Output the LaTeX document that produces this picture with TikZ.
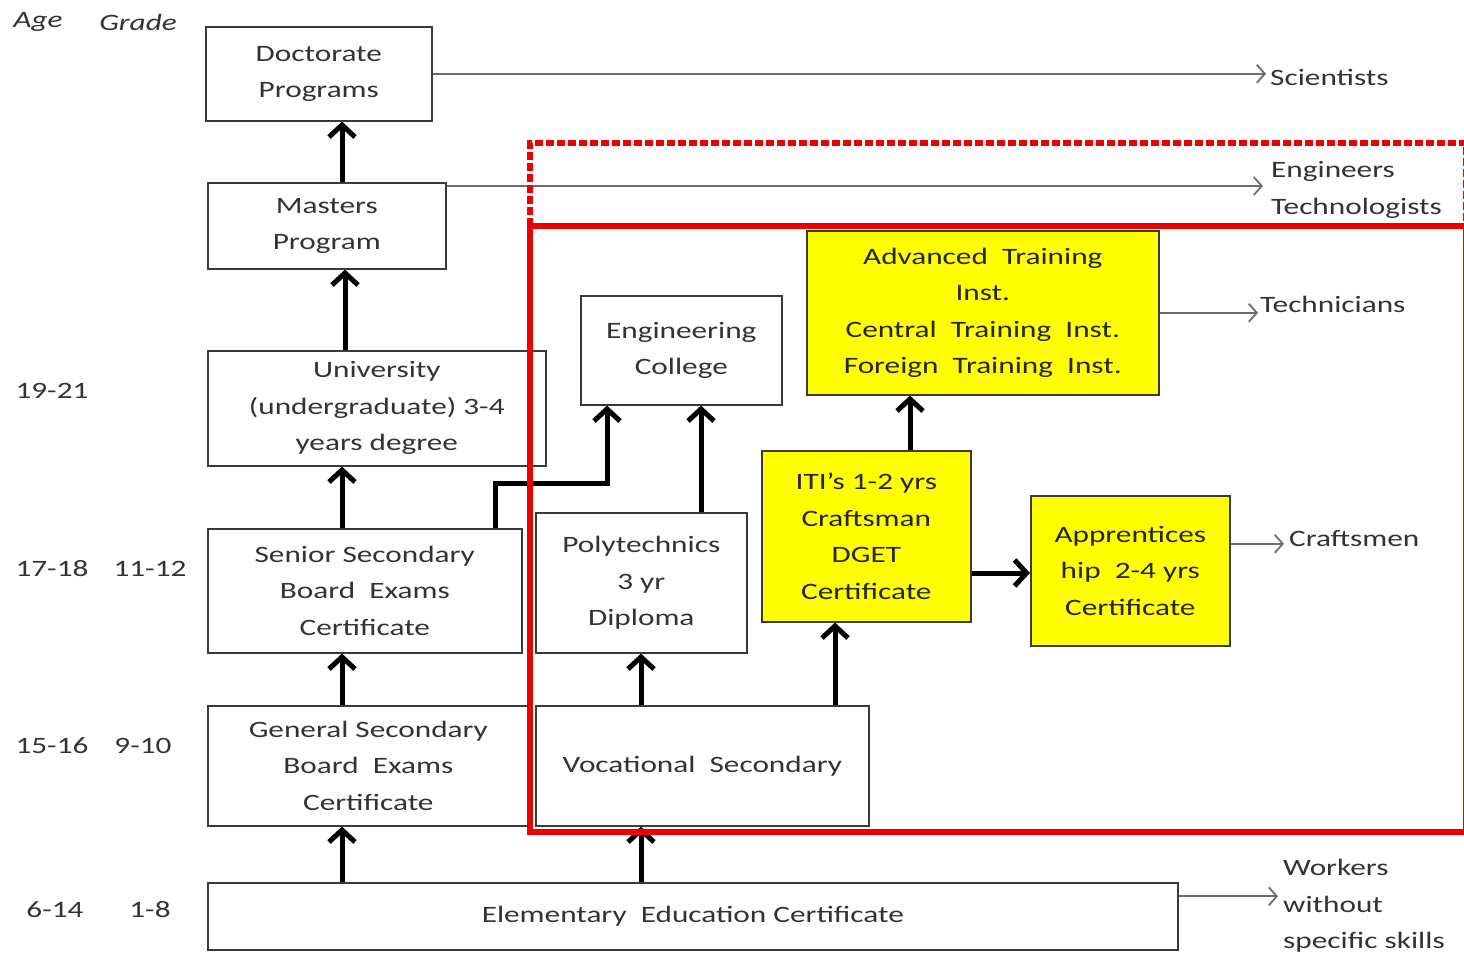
\documentclass[tikz,border=0pt]{standalone}
\usepackage{fontspec}
\setmainfont{Carlito}[FakeStretch=1.33]
\usetikzlibrary{arrows.meta,calc}
\definecolor{ink}{HTML}{333333}
\definecolor{frame}{HTML}{3A3A3A}
\definecolor{hired}{HTML}{EE0000}
\definecolor{hiyellow}{HTML}{FFFF00}
\definecolor{thinline}{HTML}{6E6E6E}

\begin{document}
\begin{tikzpicture}[x=1pt,y=-1pt,
  txt/.style={font=\fontsize{23.5}{36.5}\selectfont},
  box/.style={txt,draw=frame,line width=1.6pt,anchor=north west,inner sep=0pt,
    align=center,text=ink},
  ybox/.style={box,fill=hiyellow,text=black!85},
  lbl/.style={txt,text=ink,inner sep=0pt},
  up/.style={line width=5pt,line join=miter,-{Straight Barb[length=12pt,width=26pt]}},
  outarrow/.style={draw=thinline,line width=1.8pt,-{Straight Barb[length=8pt,width=18pt]}},
  zone/.style={draw=hired,line width=6pt},
]
\useasboundingbox (0,0) rectangle (1464,957);
\fill[white] (0,0) rectangle (1464,957);

% column headings and age / grade labels
\node[lbl,font=\fontsize{23.5}{36.5}\selectfont\itshape] (hAge) at (38,22) {Age};
\node[lbl,font=\fontsize{23.5}{36.5}\selectfont\itshape] (hGrade) at (138,22) {Grade};
\node[lbl] (a1) at (52,391) {19-21};
\node[lbl] (a2) at (52,569) {17-18};
\node[lbl] (g2) at (150,569) {11-12};
\node[lbl] (a3) at (52,746) {15-16};
\node[lbl] (g3) at (143,746) {9-10};
\node[lbl] (a4) at (55,910) {6-14};
\node[lbl] (g4) at (150,910) {1-8};

% general education track
\node[box,minimum width=226pt,minimum height=94pt] (doc) at (205,26) {Doctorate\\Programs};
\node[box,minimum width=238pt,minimum height=86pt] (mas) at (207,182) {Masters\\Program};
\node[box,minimum width=338pt,minimum height=115pt] (uni) at (207,350) {University\\(undergraduate) 3-4\\years degree};
\node[box,minimum width=314pt,minimum height=124pt] (sen) at (207,528) {Senior Secondary\\Board~ Exams\\Certificate};
\node[box,minimum width=321pt,minimum height=120pt] (gen) at (207,705) {General Secondary\\Board~ Exams\\Certificate};
\node[box,minimum width=970pt,minimum height=67pt] (ele) at (207,882) {Elementary~ Education Certificate};

% technical and vocational track
\node[box,minimum width=333pt,minimum height=120pt] (voc) at (535,705) {Vocational~ Secondary};
\node[box,minimum width=211pt,minimum height=140pt] (pol) at (535,512) {Polytechnics\\3 yr\\Diploma};
\node[box,minimum width=201pt,minimum height=109pt] (eng) at (580,295) {Engineering\\College};
\node[ybox,minimum width=352pt,minimum height=164pt] (adv) at (806,230) {Advanced~ Training\\Inst.\\Central~ Training~ Inst.\\Foreign~ Training~ Inst.};
\node[ybox,minimum width=209pt,minimum height=171pt] (iti) at (761,450) {ITI’s 1-2 yrs\\Craftsman\\DGET\\Certificate};
\node[ybox,minimum width=199pt,minimum height=150pt] (app) at (1030,495) {Apprentices\\hip~ 2-4 yrs\\Certificate};

% outcome labels
\node[lbl,anchor=west] (sci) at (1270,77) {Scientists};
\node[lbl,anchor=west,align=left] (engt) at (1271,190) {Engineers\\Technologists};
\node[lbl,anchor=west] (tech) at (1260,304) {Technicians};
\node[lbl,anchor=west] (craft) at (1289,539) {Craftsmen};
\node[lbl,anchor=west,align=left] (work) at (1283,906) {Workers\\without\\specific skills};

% arrow columns and rows
\coordinate (xA) at (342,0);
\coordinate (xA2) at (345,0);
\coordinate (xB) at (641,0);
\coordinate (xC) at (835,0);
\coordinate (xD) at (701,0);
\coordinate (xE1) at (495,0);
\coordinate (xE2) at (607,0);
\coordinate (yE) at (0,483);
\coordinate (xF) at (910,0);
\coordinate (yG) at (0,573);

% progression arrows
\draw[up] (mas.north -| xA) -- (doc.south -| xA);
\draw[up] (uni.north -| xA2) -- (mas.south -| xA2);
\draw[up] (sen.north -| xA) -- (uni.south -| xA);
\draw[up] (gen.north -| xA) -- (sen.south -| xA);
\draw[up] (ele.north -| xA) -- (gen.south -| xA);
\draw[up] (ele.north -| xB) -- (voc.south -| xB);
\draw[up] (voc.north -| xB) -- (pol.south -| xB);
\draw[up] (voc.north -| xC) -- (iti.south -| xC);
\draw[up] (pol.north -| xD) -- (eng.south -| xD);
\draw[up] (sen.north -| xE1) -- (xE1 |- yE) -- (xE2 |- yE) -- (eng.south -| xE2);
\draw[up] (iti.north -| xF) -- (adv.south -| xF);
\draw[up] (iti.east |- yG) -- (app.west |- yG);

% outcome arrows
\coordinate (mOut) at ($(mas.north east)+(0,4)$);
\coordinate (aOut) at ($(app.east)+(0,-27)$);
\coordinate (eOut) at ($(ele.east)+(0,-20)$);
\draw[outarrow] (doc.east) -- ($(doc.east -| sci.west)+(-4,0)$);
\draw[outarrow] (mOut) -- ($(mOut -| engt.west)+(-8,0)$);
\draw[outarrow] (adv.east) -- ($(adv.east -| tech.west)+(-2,0)$);
\draw[outarrow] (aOut) -- ($(aOut -| craft.west)+(-5,0)$);
\draw[outarrow] (eOut) -- ($(eOut -| work.west)+(-5,0)$);

% highlighted regions
\draw[zone,dash pattern=on 8pt off 3pt] (530,226) -- (530,143) -- (1466,143) -- (1466,226);
\draw[zone] (530,226) rectangle (1466,832);
\end{tikzpicture}
\end{document}
